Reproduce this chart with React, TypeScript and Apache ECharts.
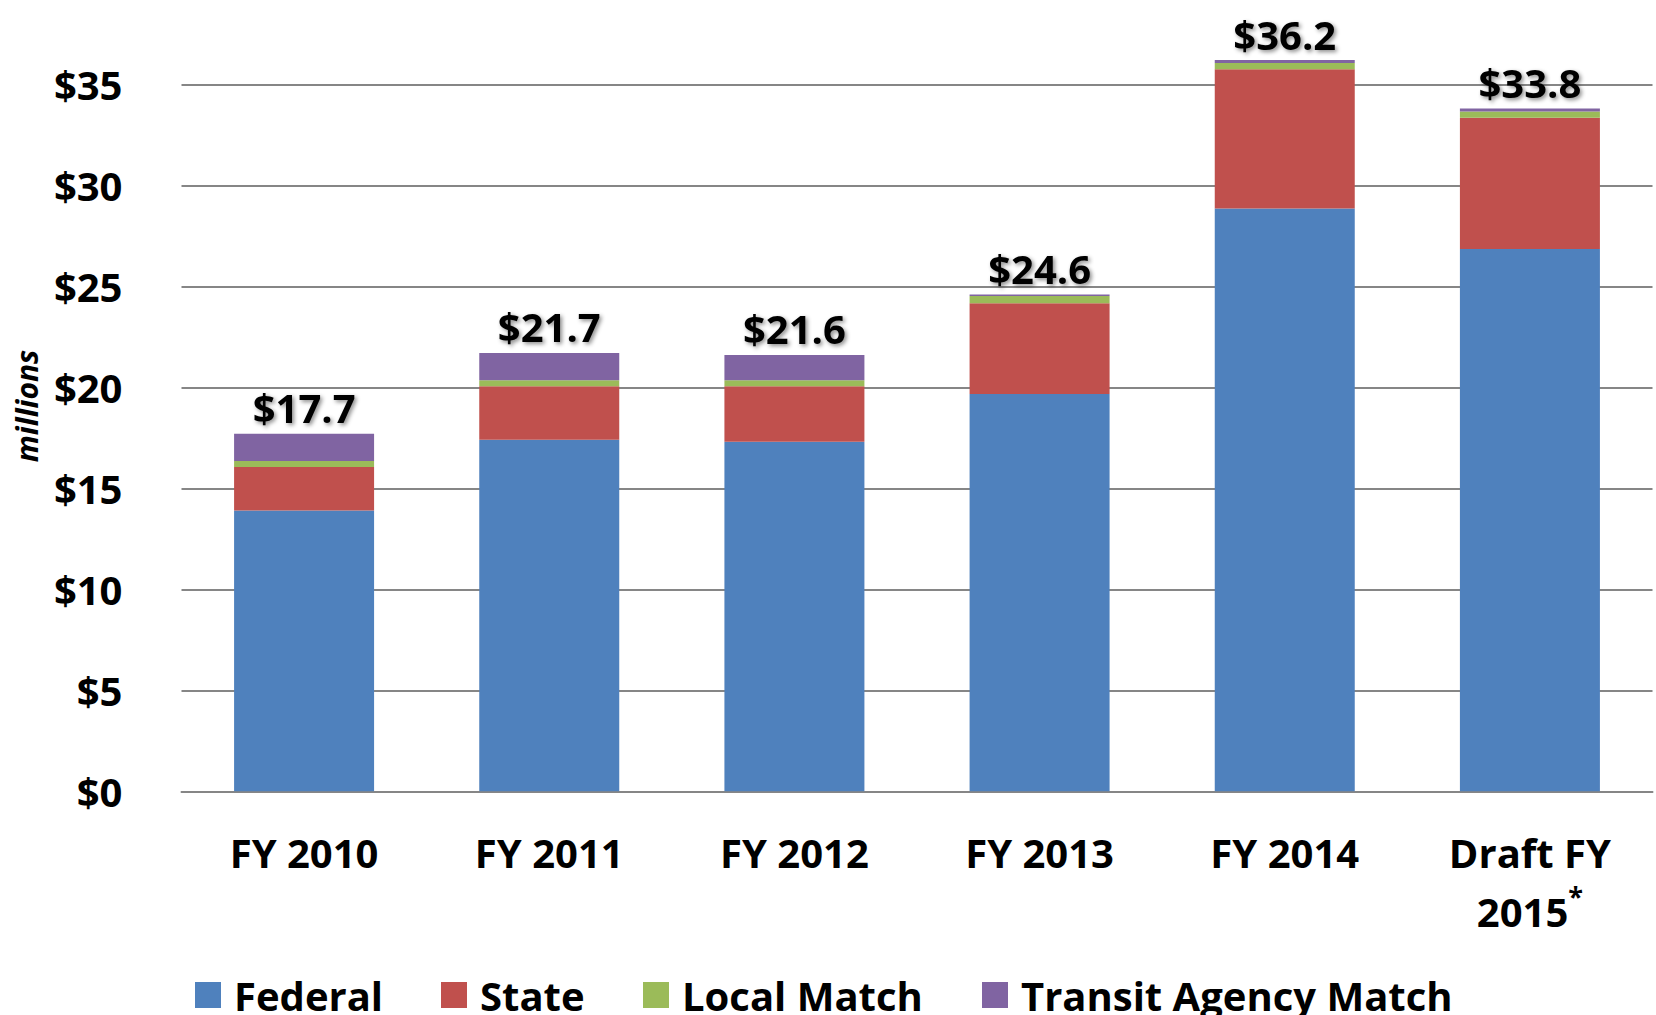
import React, { useEffect, useRef } from "react";
import * as echarts from "echarts";

const categories = ["FY 2010", "FY 2011", "FY 2012", "FY 2013", "FY 2014", "Draft FY\n2015{sup|*}"];
const seriesNames = ["Federal", "State", "Local Match", "Transit Agency Match"];
const federal = [13.9, 17.4, 17.3, 19.67, 28.85, 26.85];
const state = [2.15, 2.65, 2.75, 4.49, 6.9, 6.5];
const localMatch = [0.3, 0.3, 0.3, 0.36, 0.3, 0.3];
const transitMatch = [1.35, 1.35, 1.25, 0.08, 0.15, 0.15];
const yTicks = [0, 5, 10, 15, 20, 25, 30, 35];
const yAxisTitle = "millions";

const colors = ["#4F81BD", "#C0504D", "#9BBB59", "#8064A2"];
const FONT = "'Open Sans', Lato, sans-serif";

export default function App() {
  const ref = useRef<HTMLDivElement>(null);
  useEffect(() => {
    if (!ref.current) return;
    const chart = echarts.init(ref.current, null, { renderer: "svg" });
    const values = [federal, state, localMatch, transitMatch];
    const totals = federal.map((_, i) => values.reduce((s, arr) => s + arr[i], 0));
    const legendLefts = [190, 436, 638, 977];
    const option: any = {
      animation: false,
      backgroundColor: "#ffffff",
      color: colors,
      textStyle: { fontFamily: FONT },
      grid: {
        left: 181.5,
        right: 3.5,
        top: 791.3 - 8 * 101.0,
        bottom: 1015 - 791.3,
        containLabel: false,
        outerBoundsMode: "none",
      },
      legend: seriesNames.map((name, i) => ({
        data: [name],
        left: legendLefts[i],
        top: 970,
        itemWidth: 26,
        itemHeight: 26,
        icon: "rect",
        selectedMode: false,
        textStyle: {
          fontFamily: FONT,
          fontSize: 40,
          fontWeight: "bold",
          color: "#000",
          lineHeight: 40,
          padding: [0, 0, 0, 8],
        },
      })),
      xAxis: {
        type: "category",
        data: categories,
        axisLine: { show: true, lineStyle: { color: "#868686", width: 2 } },
        axisTick: { show: false },
        axisLabel: {
          interval: 0,
          margin: 32,
          fontFamily: FONT,
          fontSize: 40,
          fontWeight: "bold",
          color: "#000",
          lineHeight: 59,
          align: "center",
          rich: {
            sup: {
              fontFamily: FONT,
              fontSize: 27,
              fontWeight: "bold",
              color: "#000",
              verticalAlign: "top",
              lineHeight: 59,
            },
          },
        },
      },
      yAxis: {
        type: "value",
        min: 0,
        max: 40,
        interval: 5,
        axisLine: { show: false },
        axisTick: { show: false },
        splitLine: {
          show: true,
          lineStyle: { color: "#868686", width: 2 },
        },
        axisLabel: {
          margin: 59,
          fontFamily: FONT,
          fontSize: 40,
          fontWeight: "bold",
          color: "#000",
          formatter: (v: number) => (yTicks.includes(v) ? "$" + v : ""),
        },
      },
      graphic: [
        {
          type: "text",
          x: 26,
          y: 406,
          rotation: Math.PI / 2,
          style: {
            text: yAxisTitle,
            fontFamily: FONT,
            fontSize: 30,
            fontWeight: "bold",
            fontStyle: "italic",
            fill: "#000",
            textAlign: "center",
            textVerticalAlign: "middle",
          },
        },
      ],
      series: values.map((arr, si) => ({
        name: seriesNames[si],
        type: "bar",
        stack: "total",
        barWidth: 140,
        data: arr,
        itemStyle: { color: colors[si] },
        label:
          si === values.length - 1
            ? {
                show: true,
                position: "top",
                distance: 6,
                fontFamily: FONT,
                fontSize: 40,
                fontWeight: "bold",
                color: "#000",
                textShadowColor: "rgba(0,0,0,0.45)",
                textShadowBlur: 4,
                textShadowOffsetX: 2,
                textShadowOffsetY: 2,
                formatter: (p: any) => "$" + totals[p.dataIndex].toFixed(1),
              }
            : { show: false },
      })),
    };
    chart.setOption(option);
    return () => chart.dispose();
  }, []);
  return (
    <div
      ref={ref}
      style={{ position: "absolute", left: 0, top: 0, width: 1656, height: 1015 }}
    />
  );
}
